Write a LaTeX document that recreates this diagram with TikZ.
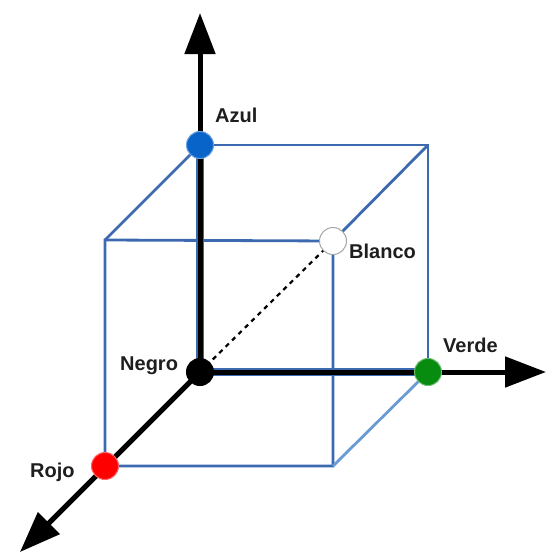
\documentclass[tikz,border=0pt]{standalone}
\usepackage{fontspec}
\setmainfont{Liberation Sans}
\usetikzlibrary{arrows.meta}
\definecolor{edgeblue}{RGB}{60,105,175}
\definecolor{lightedge}{RGB}{105,155,215}
\definecolor{dotblue}{RGB}{8,100,200}
\definecolor{dotgreen}{RGB}{8,140,16}
\definecolor{dotred}{RGB}{255,0,0}
\definecolor{txt}{RGB}{30,30,30}
\begin{document}
\begin{tikzpicture}[x=1pt,y=-1pt,
  edge/.style={draw=edgeblue,line width=2.8pt},
  softedge/.style={draw=lightedge,line width=2.8pt},
  axisline/.style={draw=black,line width=5pt,-{Triangle[length=41pt,width=30pt]}},
  axisbase/.style={draw=edgeblue,line width=8pt},
  dot/.style={circle,minimum size=27pt,inner sep=0pt,line width=1pt},
  lbl/.style={font=\fontsize{20}{22}\selectfont\bfseries,text=txt,inner sep=0pt,anchor=base west}]
\useasboundingbox (0,0) rectangle (546,552);
% corners
\coordinate (O) at (200,372);
\coordinate (B) at (200,145);
\coordinate (G) at (428,372);
\coordinate (R) at (105,466);
\coordinate (BG) at (428,145);
\coordinate (FTL) at (105,240);
\coordinate (W) at (333,241);
\coordinate (FBR) at (333,466);
\coordinate (Ztip) at (200,13);
\coordinate (Xtip) at (546,372);
\coordinate (Ytip) at (20,552);
% cube edges
\draw[edge] (B) -- (BG) -- (G);
\draw[edge] (FTL) -- (W) -- (FBR) -- (R) -- cycle;
\draw[edge] (B) -- (FTL);
\draw[edge] (BG) -- (W);
\draw[softedge] (G) -- (FBR);
\draw[black,line width=2.2pt,dash pattern=on 4.5pt off 4.5pt] (O) -- (W);
% axes
\draw[axisbase] (B) -- (O) -- (G);
\draw[axisline] (O) -- (Ztip);
\draw[axisline] (O) -- (Xtip);
\draw[axisline] (O) -- (Ytip);
% dots
\node[dot,fill=dotblue,draw=dotblue!60!white] (nb) at (B) {};
\node[dot,fill=white,draw=gray!70] (nw) at (W) {};
\node[dot,fill=black,draw=black] (nk) at (O) {};
\node[dot,fill=dotgreen,draw=dotgreen!60!white] (ng) at (G) {};
\node[dot,fill=dotred,draw=dotred!60!white] (nr) at (R) {};
% labels
\node[lbl] (tAzul) at (215,122) {Azul};
\node[lbl] (tBlanco) at (349,258) {Blanco};
\node[lbl] (tNegro) at (120,370) {Negro};
\node[lbl] (tVerde) at (443,352) {Verde};
\node[lbl] (tRojo) at (30,477) {Rojo};
\end{tikzpicture}
\end{document}
